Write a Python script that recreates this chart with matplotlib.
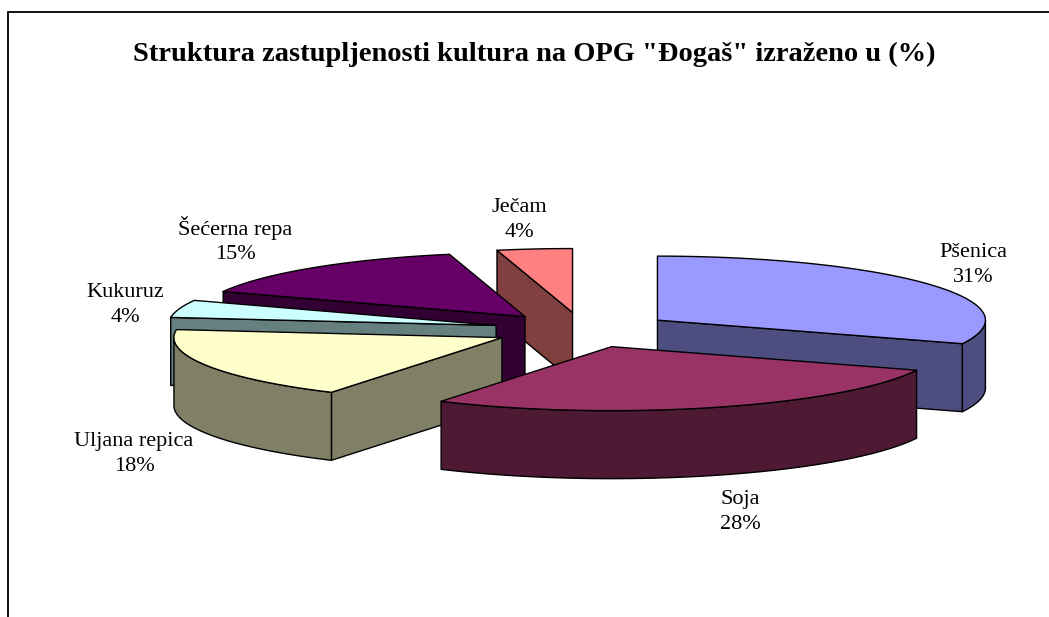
import numpy as np
import matplotlib
matplotlib.use('Agg')
import matplotlib.pyplot as plt

kulture = ['Pšenica', 'Soja', 'Uljana repica', 'Kukuruz', 'Šećerna repa', 'Ječam']
udjeli = [31, 27.7, 18.3, 4.4, 14.9, 3.7]
naslov = 'Struktura zastupljenosti kultura na OPG "Đogaš" izraženo u (%)'

boje_vrh = ['#9999FF', '#993366', '#FFFFCC', '#CCFFFF', '#660066', '#FF8080']
boje_bok = ['#4D4D80', '#4D1933', '#808066', '#668080', '#330033', '#804040']

# sredista natpisa u pikselima slike
natpisi_xy = [(973, 265), (740, 512), (134, 454), (125, 305), (235, 240), (519, 220)]

# geometrija 3D pite u pikselima
CX, CY = 583, 330
A, B = 328, 64
VISINA = 68
ODMAK = 90

# redoslijed crtanja: od straznjih kriski prema prednjima
REDOSLIJED = [5, 4, 3, 2, 0, 1]

plt.rcParams['font.family'] = ['Liberation Serif', 'DejaVu Serif']

fig = plt.figure(figsize=(10.49, 6.17), dpi=100)
ax = fig.add_axes([0, 0, 1, 1])
ax.set_xlim(0, 1049)
ax.set_ylim(617, 0)
ax.axis('off')

# okvir: vidljivi su samo gornji i lijevi rub
ax.plot([7.5, 7.5, 1049], [617, 11.5, 11.5], color='black', lw=1.3, solid_joinstyle='miter')

granice = np.cumsum([0] + udjeli) / sum(udjeli) * 2 * np.pi


def lice(tocke, boja):
    ax.fill(tocke[:, 0], tocke[:, 1], facecolor=boja, edgecolor='black', lw=1.0, joinstyle='round')


for i in REDOSLIJED:
    t0, t1 = granice[i], granice[i + 1]
    sred = (t0 + t1) / 2
    x0 = CX + ODMAK * np.sin(sred)
    y0 = CY - ODMAK * np.cos(sred) * B / A

    t = np.linspace(t0, t1, 80)
    luk = np.column_stack([x0 + A * np.sin(t), y0 - B * np.cos(t)])
    dolje = np.array([0, VISINA])
    vrh = np.array([x0, y0])

    # crtaju se samo zidovi okrenuti prema gledatelju
    if np.sin(t0) < -1e-6:
        lice(np.array([vrh, luk[0], luk[0] + dolje, vrh + dolje]), boje_bok[i])
    if np.sin(t1) > 1e-6:
        lice(np.array([vrh, luk[-1], luk[-1] + dolje, vrh + dolje]), boje_bok[i])

    prednji = luk[np.cos(t) < 0]
    if len(prednji) > 1:
        lice(np.vstack([prednji, (prednji + dolje)[::-1]]), boje_bok[i])

    lice(np.vstack([vrh, luk]), boje_vrh[i])

for ime, udio, (x, y) in zip(kulture, udjeli, natpisi_xy):
    ax.text(x, y, f'{ime}\n{round(udio)}%', ha='center', va='center', fontsize=16, linespacing=1.42, color='black')

ax.text(534, 54, naslov, ha='center', va='center', fontsize=20.5, fontweight='bold', color='black')

fig.savefig('out.png', dpi=100)
plt.close(fig)
